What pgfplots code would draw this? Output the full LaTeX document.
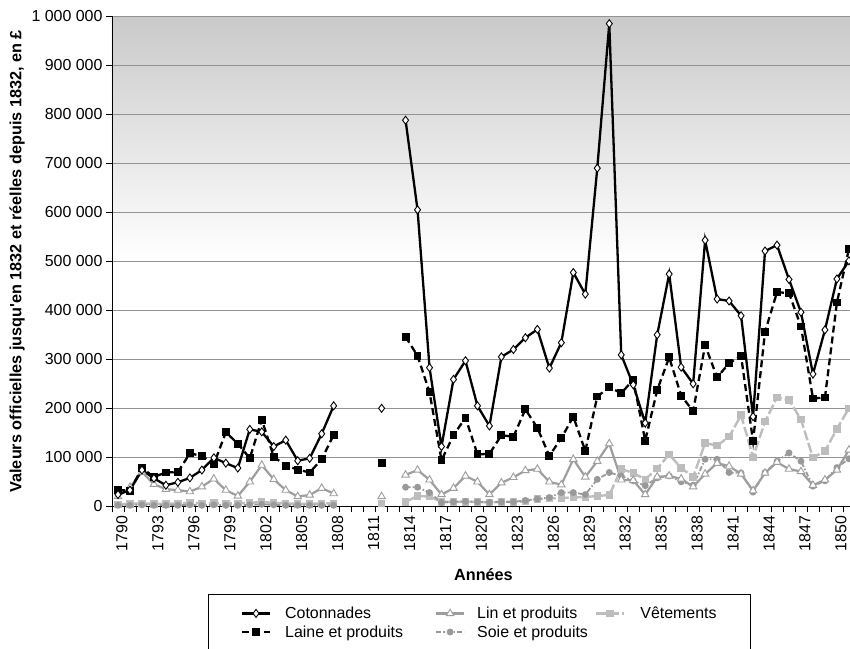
\documentclass[border=0pt]{standalone}
\usepackage{fontspec}
\setmainfont{Liberation Sans}
\usepackage{pgfplots}
\pgfplotsset{compat=1.18}
\usepackage{pgfplotstable}

\pgfplotstableread{
year C La Li S V
1790 24 33 20 2 4
1791 33 32 39 2 5
1792 74 78 70 3 6
1793 57 60 45 2 5
1794 43 69 35 2 5
1795 49 70 33 2 6
1796 58 108 30 3 7
1797 74 103 40 2 6
1798 99 86 56 3 7
1799 88 151 33 2 6
1800 78 128 21 2 6
1801 157 98 50 3 7
1802 152 177 84 4 9
1803 122 101 55 3 7
1804 135 83 33 2 6
1805 93 75 20 2 5
1806 98 69 23 2 5
1807 148 96 37 2 6
1808 205 146 26 2 6
1809 nan nan nan nan nan
1811 nan nan nan nan nan
1812 200 89 20 nan 6
1813 nan nan nan nan nan
1814 788 346 64 39 9
1815 605 307 74 39 21
1816 283 233 54 28 20
1817 122 94 24 8 9
1818 259 145 37 9 9
1819 297 181 62 10 9
1820 205 106 50 9 9
1821 164 107 24 8 8
1822 305 145 48 9 9
1823 320 142 59 9 9
1824 344 198 73 12 10
1825 361 160 76 15 15
1826 282 103 50 18 16
1827 334 139 44 28 17
1828 477 183 96 28 18
1829 433 113 60 24 19
1830 690 224 92 55 21
1831 985 243 128 69 23
1832 309 231 54 62 76
1833 248 258 53 52 68
1834 170 134 24 42 55
1835 350 237 60 58 77
1836 474 304 62 62 106
1837 284 226 56 50 78
1838 250 194 40 43 60
1839 543 329 66 96 129
1840 423 263 88 96 124
1841 419 292 82 69 142
1842 389 307 66 68 186
1843 183 133 32 29 100
1844 521 356 68 69 173
1845 533 437 90 92 222
1846 463 435 76 109 217
1847 396 367 71 92 177
1848 270 220 43 41 99
1849 360 222 54 52 113
1850 464 416 74 79 158
1851 501 525 115 97 200
}\data

\definecolor{linc}{HTML}{9E9E9E}
\definecolor{soiec}{HTML}{999999}
\definecolor{vetc}{HTML}{BDBDBD}

\begin{document}
\begin{tikzpicture}
\begin{axis}[
  width=742.9bp, height=490bp, scale only axis,
  xmin=1789.5, xmax=1851.5, ymin=0, ymax=1000,
  axis x line*=bottom, axis y line*=left,
  axis line style={black, line width=0.9bp},
  axis background/.style={top color=black!21, bottom color=white, middle color=white},
  unbounded coords=jump,
  tick align=outside,
  major tick length=6bp,
  minor tick length=6bp,
  tick style={black, line width=0.8bp},
  ytick={0,100,...,1000},
  yticklabels={0,100 000,200 000,300 000,400 000,500 000,600 000,700 000,800 000,900 000,1 000 000},
  ymajorgrids,
  grid style={gray!85, line width=0.8bp},
  xtick={1790,1793,...,1850},
  xticklabels={1790,1793,1796,1799,1802,1805,1808,1811,1814,1817,1820,1823,1826,1829,1832,1835,1838,1841,1844,1847,1850},
  major x tick style={draw=none},
  minor xtick={1789.5,1790.5,...,1851.5},
  minor x tick style={black, line width=0.8bp},
  xticklabel style={rotate=90, anchor=east, yshift=-4bp},
  tick label style={font=\fontsize{16}{19}\selectfont},
  xlabel={Années},
  xlabel style={yshift=-10bp},
  ylabel={Valeurs officielles jusqu\textquotesingle en 1832 et réelles depuis 1832, en £},
  label style={font=\bfseries\fontsize{16.3}{19}\selectfont},
  legend columns=3,
  legend style={at={(axis description cs:0.495,-0.18)}, anchor=north, draw=black, line width=0.8bp,
    font=\fontsize{16}{19.7}\selectfont, inner xsep=32bp, inner ysep=10bp, row sep=1.5bp,
    /tikz/column 1/.style={column sep=12bp},
    /tikz/column 2/.style={column sep=30bp},
    /tikz/column 3/.style={column sep=10bp},
    /tikz/column 4/.style={column sep=5bp},
    /tikz/column 5/.style={column sep=13bp}},
  legend cell align=left,
  legend image code/.code={\draw[mark repeat=2,mark phase=2,#1] plot coordinates {(0bp,0bp) (14bp,0bp) (28bp,0bp)};},
]
\coordinate (O) at (rel axis cs:0,0);
\addlegendimage{black, line width=2.3bp, mark=diamond*, mark size=4bp, mark options={solid, fill=white, draw=black, line width=0.9bp}}
\addlegendentry{Cotonnades}
\addlegendimage{linc, line width=2.2bp, mark=triangle*, mark size=4.3bp, mark options={solid, fill=white, draw=linc, line width=0.9bp}}
\addlegendentry{Lin et produits}
\addlegendimage{vetc, line width=2.4bp, dash pattern=on 10bp off 3bp, mark=square*, mark size=2.5bp, mark options={solid, fill=vetc, draw=vetc}}
\addlegendentry{Vêtements}
\addlegendimage{black, line width=2.3bp, dash pattern=on 7bp off 4bp, mark=square*, mark size=2.8bp, mark options={solid, fill=black}}
\addlegendentry{Laine et produits}
\addlegendimage{soiec, line width=1.8bp, dash pattern=on 5bp off 2bp on 1.5bp off 2bp, mark=*, mark size=2.5bp, mark options={solid, fill=soiec, draw=soiec}}
\addlegendentry{Soie et produits}

\addplot[forget plot, vetc, line width=2.4bp, dash pattern=on 10bp off 3bp, mark=square*, mark size=2.5bp, mark options={solid, fill=vetc, draw=vetc}] table[x=year, y=V] {\data};
\addplot[forget plot, soiec, line width=1.8bp, dash pattern=on 5bp off 2bp on 1.5bp off 2bp, mark=*, mark size=2.5bp, mark options={solid, fill=soiec, draw=soiec}] table[x=year, y=S] {\data};
\addplot[forget plot, linc, line width=2.2bp, mark=triangle*, mark size=4.3bp, mark options={solid, fill=white, draw=linc, line width=0.9bp}] table[x=year, y=Li] {\data};
\addplot[forget plot, black, line width=2.3bp, dash pattern=on 7bp off 4bp, mark=square*, mark size=2.8bp, mark options={solid, fill=black}] table[x=year, y=La] {\data};
\addplot[forget plot, black, line width=2.3bp, mark=diamond*, mark size=4bp, mark options={solid, fill=white, draw=black, line width=0.9bp}] table[x=year, y=C] {\data};
\end{axis}
\pgfresetboundingbox
\path[use as bounding box] ([shift={(-112bp,-142.7bp)}]O) rectangle ([shift={(738bp,506.3bp)}]O);
\end{tikzpicture}
\end{document}
